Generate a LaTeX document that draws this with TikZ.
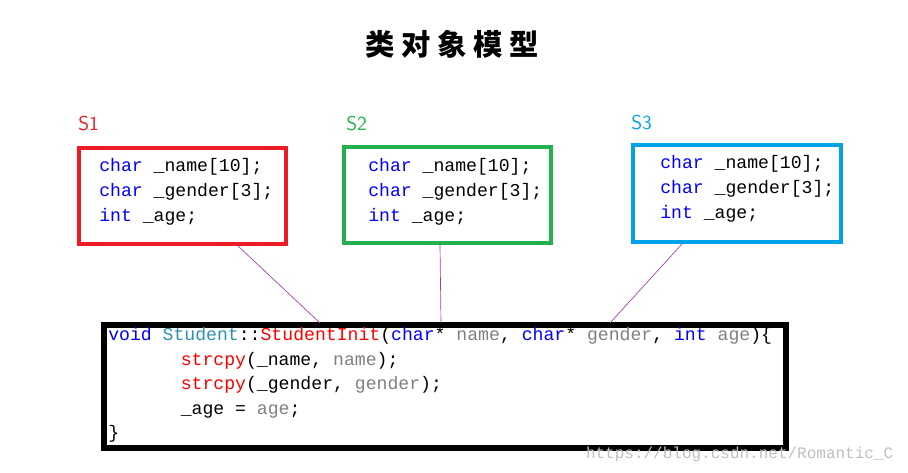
\documentclass[tikz,border=0pt]{standalone}
\usepackage{fontspec}
\setmonofont{Liberation Mono}
\newfontfamily\cjk{Noto Sans CJK SC}
\usetikzlibrary{calc}
\definecolor{kwblue}{RGB}{0,0,255}
\definecolor{typeteal}{RGB}{43,145,175}
\definecolor{argGray}{RGB}{128,128,128}
\definecolor{sred}{RGB}{237,28,36}
\definecolor{sgreen}{RGB}{34,177,76}
\definecolor{sblue}{RGB}{0,162,232}
\definecolor{link}{RGB}{160,60,170}
\tikzset{
  frame/.style={draw, line width=3pt, minimum width=#1, inner sep=0pt},
  code/.style={font=\ttfamily\fontsize{13.6}{18.6}\selectfont, align=left, anchor=west, inner sep=0pt},
  tag/.style={font=\fontsize{15}{18}\selectfont\sffamily, anchor=west, inner sep=0pt},
  line/.style={draw=link, line width=0.5pt}
}
\newcommand{\kw}[1]{\textcolor{kwblue}{#1}}
\newcommand{\ag}[1]{\textcolor{argGray}{#1}}
\newcommand{\fn}[1]{\textcolor{red}{#1}}
\begin{document}
\begin{tikzpicture}[x=0.75pt,y=-0.75pt]
\useasboundingbox (0,0) rectangle (908,473);
% title
\node[font=\cjk\bfseries\fontsize{22}{24}\selectfont] (title) at (452,44) {类\ 对\ 象\ 模\ 型};
% member boxes
\draw[frame, sred] (79,148) rectangle (286,244);
\draw[frame, sgreen] (344,147) rectangle (551,243);
\draw[frame, sblue] (633,145) rectangle (841,242);
\node[tag, text=sred] (l1) at (78,124) {S1};
\node[tag, text=sgreen] (l2) at (346,124) {S2};
\node[tag, text=sblue] (l3) at (631,123) {S3};
\node[code] (m1) at (99,192) {\kw{char} \_name[10];\\\kw{char} \_gender[3];\\\kw{int} \_age;};
\node[code] (m2) at (368,192) {\kw{char} \_name[10];\\\kw{char} \_gender[3];\\\kw{int} \_age;};
\node[code] (m3) at (660,189) {\kw{char} \_name[10];\\\kw{char} \_gender[3];\\\kw{int} \_age;};
% function box
\draw[line width=4pt] (104,325) rectangle (786,448);
\node[code, font=\ttfamily\fontsize{13.6}{18.4}\selectfont] (fun) at (108,385)
 {\kw{void} \textcolor{typeteal}{Student}::\fn{StudentInit}(\kw{char}* \ag{name}, \kw{char}* \ag{gender}, \kw{int} \ag{age})\{\\
 \hspace*{4em}\fn{strcpy}(\_name, \ag{name});\\
 \hspace*{4em}\fn{strcpy}(\_gender, \ag{gender});\\
 \hspace*{4em}\_age = \ag{age};\\
 \}};
% links
\coordinate (a1) at (237,245); \coordinate (b1) at (320,323);
\coordinate (a2) at (440,245); \coordinate (b2) at (441,323);
\coordinate (a3) at (682,244); \coordinate (b3) at (610,323);
\path[line] (a1) -- (b1);
\path[line] (a2) -- (b2);
\path[line] (a3) -- (b3);
\node[anchor=east, text=black!25, font=\ttfamily\fontsize{12}{14}\selectfont] (wm) at (898,454) {https://blog.csdn.net/Romantic\_C};
\end{tikzpicture}
\end{document}
